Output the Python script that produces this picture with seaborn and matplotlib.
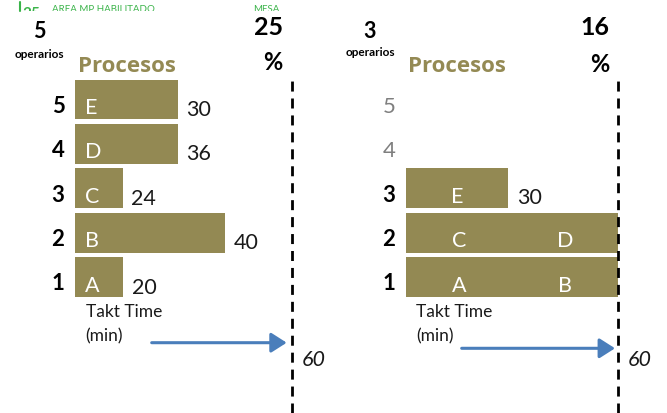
import matplotlib
matplotlib.use("Agg")
import matplotlib.pyplot as plt
import seaborn as sns
import pandas as pd
from matplotlib.transforms import Bbox, TransformedBbox
from matplotlib.lines import Line2D

# ---------------- data ----------------
takt_time = 60
all_rows = [1, 2, 3, 4, 5]

left_operators = 5
left_pct = 25
left_rows = [1, 2, 3, 4, 5]
left_letters = ["A", "B", "C", "D", "E"]
left_times = [20, 40, 24, 36, 30]
left_bar_len = [13.3, 41.5, 13.2, 28.4, 28.4]   # drawn bar length (takt scale)

right_operators = 3
right_pct = 16
right_rows = [1, 2, 3]
right_letters = [["A", "B"], ["C", "D"], ["E"]]
right_bar_len = [60, 60, 29]
right_value_labels = ["", "", "30"]

# ---------------- style ----------------
sns.set_style("white")
plt.rcParams["font.family"] = ["Lato", "DejaVu Sans"]
BAR = "#938953"
OLIVE = "#948A54"
BLUE = "#4A7EBB"
GREEN = "#3BB44A"
TXT = "#1a1a1a"
GRAY = "#7f7f7f"

W, H = 667, 413
PITCH = 44.375      # px per row
ROW1_PY = 277       # px (from top) of row 1 centre


def fx(px):
    return px / W


def fy(py):
    return 1 - py / H


def row_of(py):
    return 1 + (ROW1_PY - py) / PITCH


fig = plt.figure(figsize=(W / 100, H / 100), dpi=100)
fig.patch.set_facecolor("white")

panels = [
    # (ax left px, ax right px, x0 px, x60 px)
    (0, 333, 75.0, 292.0),
    (333, 667, 405.7, 618.3),
]
axes = []
scales = []
for (al, ar, x0, x60) in panels:
    ax = fig.add_axes([fx(al), 0, (ar - al) / W, 1])
    s = (x60 - x0) / takt_time
    axes.append(ax)
    scales.append(s)

axL, axR = axes
sL, sR = scales

# ---------------- left panel ----------------
df_left = pd.DataFrame({"row": left_rows, "len": left_bar_len})
sns.barplot(data=df_left, x="len", y="row", orient="h", native_scale=True,
            color=BAR, saturation=1, width=0.9, errorbar=None, linewidth=0,
            ax=axL)

for r, L, letter, t in zip(left_rows, left_bar_len, left_letters, left_times):
    axL.text(2.7, r - 14.5 / PITCH, letter, color="white", fontsize=15.5,
             ha="left", va="baseline")
    axL.text(L + 8.5 / sL, r - 16.5 / PITCH, str(t), color=TXT, fontsize=15.5,
             ha="left", va="baseline")
for r in all_rows:
    axL.text(-17 / sL, r - 13.5 / PITCH, str(r), color="black", fontsize=16,
             fontweight="bold", ha="center", va="baseline")

# ---------------- right panel ----------------
df_right = pd.DataFrame({"row": right_rows, "len": right_bar_len})
sns.barplot(data=df_right, x="len", y="row", orient="h", native_scale=True,
            color=BAR, saturation=1, width=0.9, errorbar=None, linewidth=0,
            ax=axR)

for r, L, letters, lab in zip(right_rows, right_bar_len, right_letters,
                              right_value_labels):
    n = len(letters)
    for i, letter in enumerate(letters):
        axR.text((i + 0.5) * L / n, r - 14.5 / PITCH, letter, color="white",
                 fontsize=15.5, ha="center", va="baseline")
    if lab:
        axR.text(L + 8.5 / sR, r - 15.5 / PITCH, lab, color=TXT, fontsize=15.5,
                 ha="left", va="baseline")
for r in all_rows:
    active = r <= right_operators
    axR.text(-16.7 / sR, r - 13.5 / PITCH, str(r),
             color="black" if active else GRAY, fontsize=16,
             fontweight="bold" if active else "normal",
             ha="center", va="baseline")

# ---------------- shared decorations ----------------
ylim = (row_of(H), row_of(0))
arrow_cfg = [
    # (tail px from x0, tip gap px, arrow y px, takt-label px, takt base)
    (76.7, 5.3, 342.7, 9.7, 366),
    (56.0, 3.3, 348.3, 9.7, 366),
]
for ax, s, (al, ar, x0, x60), (tail, gap, ay, lx, lb) in zip(
        axes, scales, panels, arrow_cfg):
    ax.set_xlim((al - x0) / s, (ar - x0) / s)
    ax.set_ylim(*ylim)
    ax.set_axis_off()
    ax.vlines(takt_time, ylim[0], row_of(77), colors="black", linewidth=2,
              linestyles=(0, (3.6, 2.5)))
    ax.annotate("", xy=(takt_time - gap / s, row_of(ay)),
                xytext=(tail / s, row_of(ay)),
                arrowprops=dict(arrowstyle="-|>,head_length=0.94,head_width=0.6",
                                color=BLUE, lw=2.2, shrinkA=0, shrinkB=0,
                                mutation_scale=10))
    ax.text(takt_time + lx / s, row_of(lb), str(takt_time), fontsize=15.5,
            fontstyle="italic", color=TXT, ha="left", va="baseline")
    ax.text(10.5 / s, row_of(317), "Takt Time", fontsize=12.5, color=TXT,
            ha="left", va="baseline")
    ax.text(10.5 / s, row_of(341), "(min)", fontsize=12.5, color=TXT,
            ha="left", va="baseline")

# ---------------- header texts ----------------
headers = [
    # (operators, pct, op x, op-label base, procesos x, procesos base, pct x, pct base, % x, % base)
    (left_operators, left_pct, 39, 58, 126.5, 72, 269, 35, 273, 70),
    (right_operators, right_pct, 370, 56, 457, 72.5, 595, 35, 600, 71.7),
]
for ops, pct, ox, ob, px_, pb, cx, cb, qx, qb in headers:
    fig.text(fx(ox), fy(38), str(ops), fontsize=15.5, fontweight="bold",
             color="black", ha="center", va="baseline")
    fig.text(fx(ox), fy(ob), "operarios", fontsize=8.5, fontweight="bold",
             color="black", ha="center", va="baseline")
    fig.text(fx(px_), fy(pb), "Procesos", fontsize=16, fontweight="bold",
             family=["Open Sans", "Lato", "DejaVu Sans"],
             color=OLIVE, ha="center", va="baseline")
    fig.text(fx(cx), fy(cb), str(pct), fontsize=18, fontweight="bold",
             color="black", ha="center", va="baseline")
    fig.text(fx(qx), fy(qb), "%", fontsize=17, fontweight="bold",
             color="black", ha="center", va="baseline")

# clipped green strip at the very top
clip = TransformedBbox(Bbox.from_bounds(0, fy(11), 1, 11 / H), fig.transFigure)
for x, y, txt, size, wt in [(22, 18, "25", 11, "bold"),
                            (52, 12.5, "AREA MP HABILITADO", 7, "normal"),
                            (253, 12.5, "MESA", 7, "normal")]:
    t = fig.text(fx(x), fy(y), txt, fontsize=size, fontweight=wt, color=GREEN,
                 ha="left", va="baseline")
    t.set_clip_box(clip)
    t.set_clip_on(True)
fig.add_artist(Line2D([fx(19.5), fx(19.5)], [fy(2), fy(11)], color=GREEN, lw=1.5))

fig.savefig("out.png", dpi=100, facecolor="white")
